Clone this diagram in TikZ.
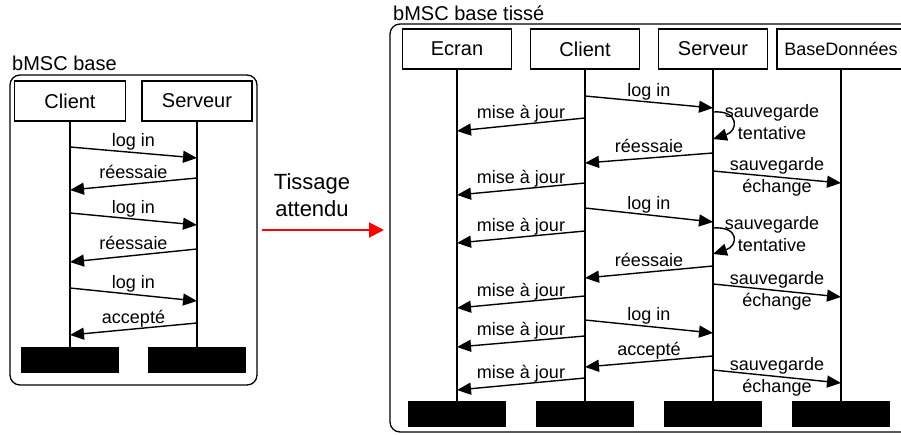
\documentclass[tikz,border=0pt]{standalone}
\usepackage{fontspec}
\setmainfont{Liberation Sans}
\usetikzlibrary{arrows.meta}
\begin{document}
\begin{tikzpicture}[x=1pt,y=-1pt,
 box/.style={draw, line width=1.2pt, minimum height=40pt, inner sep=0pt, font=\fontsize{20}{24}\selectfont},
 endbox/.style={fill=black, minimum width=98pt, minimum height=26pt, inner sep=0pt},
 life/.style={line width=1.3pt},
 msg/.style={line width=1.4pt, -{Triangle[length=14pt,width=12pt]}},
 lbl/.style={font=\fontsize{18}{22}\selectfont, inner sep=0pt},
 ml/.style={lbl, midway, anchor=base, yshift=6pt},
 m2/.style={lbl, midway, align=center},
 frame/.style={line width=1.3pt, rounded corners=10pt},
 ttl/.style={font=\fontsize{20}{24}\selectfont, inner sep=0pt, anchor=base west}]
\useasboundingbox (0,0) rectangle (901,434);

% ---------------- left bMSC ----------------
\draw[frame] (10,75) rectangle (257,385);
\node[ttl] (t1) at (12,70) {bMSC base};
\node[box, minimum width=111pt] (lc) at (70,101) {Client};
\node[box, minimum width=110pt] (ls) at (197,101) {Serveur};
\node[endbox] (lce) at (70,360) {};
\node[endbox] (lse) at (197,360) {};
\draw[life] (lc.south) -- (lce.north);
\draw[life] (ls.south) -- (lse.north);

\draw[msg] (lc |- 0,147) -- (ls |- 0,158) node[ml] {log in};
\draw[msg] (ls |- 0,178) -- (lc |- 0,190) node[ml] {réessaie};
\draw[msg] (lc |- 0,213) -- (ls |- 0,225) node[ml] {log in};
\draw[msg] (ls |- 0,249) -- (lc |- 0,262) node[ml] {réessaie};
\draw[msg] (lc |- 0,288) -- (ls |- 0,301) node[ml] {log in};
\draw[msg] (ls |- 0,323) -- (lc |- 0,335) node[ml] {accepté};

% ---------------- weaving arrow ----------------
\node[font=\fontsize{22}{27}\selectfont, align=center, inner sep=0pt] (tiss) at (312,195.5) {Tissage\\attendu};
\coordinate (ra) at (262,230);
\coordinate (rb) at (384,230);
\draw[red, line width=2pt, -{Triangle[length=15pt,width=15pt]}] (ra) -- (rb);

% ---------------- right bMSC ----------------
\draw[frame] (390,24) rectangle (920,432);
\node[ttl] (t2) at (393,20.5) {bMSC base tissé};
\node[box, minimum width=109pt] (ec) at (457,49) {Ecran};
\node[box, minimum width=109pt] (cl) at (585,49) {Client};
\node[box, minimum width=109pt] (sv) at (713,49) {Serveur};
\node[box, minimum width=128pt, font=\fontsize{18}{22}\selectfont] (bd) at (841,49) {BaseDonnées};
\node[endbox] (ece) at (457,414) {};
\node[endbox] (cle) at (585,414) {};
\node[endbox] (sve) at (713,414) {};
\node[endbox] (bde) at (841,414) {};
\draw[life] (ec.south) -- (ece.north);
\draw[life] (cl.south) -- (cle.north);
\draw[life] (sv.south) -- (sve.north);
\draw[life] (bd.south) -- (bde.north);

\draw[msg] (cl |- 0,96) -- (sv |- 0,108) node[ml] {log in};
\draw[msg] (cl |- 0,118) -- (ec |- 0,131) node[ml] {mise à jour};
\draw[msg] (sv |- 0,112) .. controls +(27,-2) and +(25,-8) .. (sv |- 0,139);
\node[lbl, align=center] (st1) at (772,122) {sauvegarde\\tentative};
\draw[msg] (sv |- 0,153) -- (cl |- 0,163) node[ml] {réessaie};
\draw[msg] (sv |- 0,171) -- (bd |- 0,183) node[m2] {sauvegarde\\échange};
\draw[msg] (cl |- 0,183) -- (ec |- 0,195) node[ml] {mise à jour};
\draw[msg] (cl |- 0,208) -- (sv |- 0,222) node[ml] {log in};
\draw[msg] (cl |- 0,231) -- (ec |- 0,243) node[ml] {mise à jour};
\draw[msg] (sv |- 0,228) .. controls +(27,-2) and +(25,-8) .. (sv |- 0,254);
\node[lbl, align=center] (st2) at (772,234.5) {sauvegarde\\tentative};
\draw[msg] (sv |- 0,266) -- (cl |- 0,278) node[ml] {réessaie};
\draw[msg] (sv |- 0,284) -- (bd |- 0,297) node[m2] {sauvegarde\\échange};
\draw[msg] (cl |- 0,296) -- (ec |- 0,308) node[ml] {mise à jour};
\draw[msg] (cl |- 0,320) -- (sv |- 0,333) node[ml] {log in};
\draw[msg] (cl |- 0,336) -- (ec |- 0,347) node[ml] {mise à jour};
\draw[msg] (sv |- 0,356) -- (cl |- 0,367) node[ml] {accepté};
\draw[msg] (sv |- 0,370) -- (bd |- 0,383) node[m2] {sauvegarde\\échange};
\draw[msg] (cl |- 0,378) -- (ec |- 0,390) node[ml] {mise à jour};
\end{tikzpicture}
\end{document}
